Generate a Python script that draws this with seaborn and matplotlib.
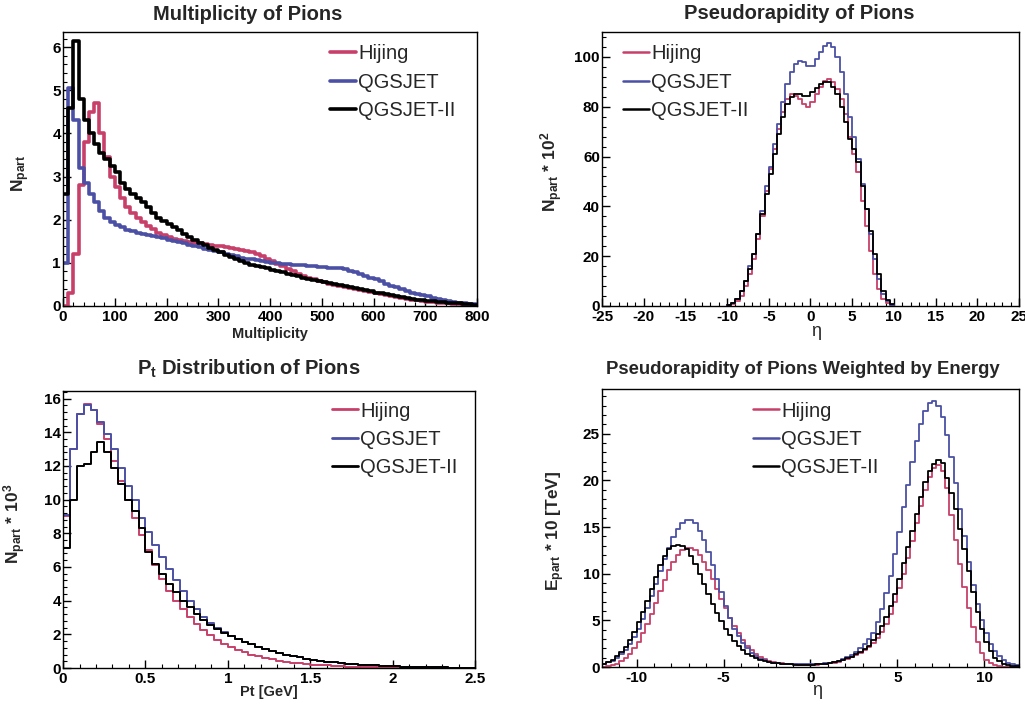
import numpy as np
import matplotlib
matplotlib.use("Agg")
import matplotlib.pyplot as plt
from matplotlib.lines import Line2D
from matplotlib.ticker import MultipleLocator, FuncFormatter
import seaborn as sns

MODELS = ["Hijing", "QGSJET", "QGSJET-II"]
COLORS = {"Hijing": "#c8406a", "QGSJET": "#4b50a5", "QGSJET-II": "#000000"}

# --- Multiplicity of pions (bins of 10 from 0 to 800) ---
mult_edges = np.arange(0, 810, 10)
mult_hijing = [0.0, 0.3, 1.2, 2.8, 3.8, 4.5, 4.7, 4.0, 3.45, 3.0,
               2.75, 2.5, 2.3, 2.15, 2.05, 1.95, 1.85, 1.78, 1.7, 1.64,
               1.6, 1.56, 1.53, 1.5, 1.48, 1.46, 1.45, 1.44, 1.42, 1.4,
               1.38, 1.36, 1.34, 1.32, 1.3, 1.27, 1.24, 1.2, 1.15, 1.1,
               1.04, 0.98, 0.92, 0.86, 0.8, 0.75, 0.7, 0.66, 0.62, 0.58,
               0.55, 0.52, 0.49, 0.46, 0.44, 0.42, 0.39, 0.37, 0.34, 0.32,
               0.29, 0.27, 0.25, 0.23, 0.21, 0.19, 0.17, 0.15, 0.13, 0.12,
               0.1, 0.09, 0.08, 0.07, 0.06, 0.05, 0.04, 0.03, 0.02, 0.015]
mult_qgsjet = [1.0, 5.05, 4.3, 3.2, 2.85, 2.6, 2.4, 2.2, 2.05, 1.95,
               1.88, 1.82, 1.77, 1.73, 1.7, 1.67, 1.64, 1.62, 1.6, 1.57,
               1.54, 1.51, 1.48, 1.45, 1.42, 1.39, 1.36, 1.33, 1.3, 1.27,
               1.24, 1.21, 1.18, 1.15, 1.12, 1.1, 1.08, 1.06, 1.04, 1.02,
               1.0, 0.99, 0.98, 0.97, 0.96, 0.95, 0.94, 0.93, 0.92, 0.91,
               0.9, 0.89, 0.88, 0.87, 0.85, 0.82, 0.78, 0.74, 0.7, 0.66,
               0.62, 0.57, 0.52, 0.47, 0.43, 0.39, 0.35, 0.31, 0.28, 0.25,
               0.22, 0.19, 0.16, 0.14, 0.12, 0.1, 0.08, 0.06, 0.05, 0.04]
mult_qgsjet2 = [2.6, 4.6, 6.15, 4.8, 4.3, 4.0, 3.75, 3.55, 3.4, 3.25,
                3.1, 2.85, 2.72, 2.6, 2.5, 2.4, 2.3, 2.15, 2.05, 1.97,
                1.9, 1.82, 1.75, 1.68, 1.6, 1.53, 1.47, 1.41, 1.35, 1.3,
                1.25, 1.19, 1.14, 1.09, 1.05, 1.0, 0.96, 0.93, 0.9, 0.87,
                0.84, 0.81, 0.78, 0.75, 0.72, 0.69, 0.66, 0.63, 0.6, 0.58,
                0.55, 0.53, 0.5, 0.48, 0.46, 0.44, 0.41, 0.39, 0.36, 0.34,
                0.31, 0.29, 0.27, 0.25, 0.23, 0.21, 0.19, 0.17, 0.15, 0.14,
                0.12, 0.11, 0.1, 0.09, 0.08, 0.07, 0.06, 0.05, 0.04, 0.03]

# --- Pseudorapidity of pions (bins of 0.5 from -10 to 10), N * 10^2 ---
eta_edges = np.arange(-10, 10.5, 0.5)
eta_hijing = [0.2, 0.8, 2, 4, 8, 13, 19, 27, 36, 46,
              55, 63, 71, 78, 83, 85, 84.5, 83, 81, 80,
              82, 85, 88, 90.5, 91, 90, 87, 83, 77, 68,
              61, 54, 42, 32, 22, 13, 7, 3, 1, 0.3]
eta_qgsjet = [0.3, 1, 3, 6, 10, 16, 21, 29, 38, 48,
              56, 65, 73, 82, 89, 94, 97, 98.5, 98, 96.5,
              96.5, 99, 102, 104.5, 105.5, 104, 100, 94, 85, 76,
              68, 59, 49, 39, 29, 19, 11, 5, 2, 0.5]
eta_qgsjet2 = [0.3, 1, 3, 6, 10, 15, 21, 29, 37, 45,
               53, 61, 69, 76, 81, 84, 85, 85, 84.5, 84.5,
               86, 87.5, 89, 90, 90, 88, 85, 80, 74, 67,
               63, 58, 48, 39, 30, 21, 13, 6, 2.5, 0.7]

# --- Pt distribution (60 bins from 0 to 2.5 GeV), N * 10^3 ---
pt_edges = np.linspace(0, 2.5, 61)
pt_hijing = [9.0, 13.0, 15.1, 15.7, 15.3, 14.5, 13.6, 12.3, 11.1, 10.0,
             8.9, 7.9, 7.0, 6.1, 5.3, 4.6, 4.0, 3.5, 3.0, 2.6,
             2.25, 1.95, 1.68, 1.45, 1.25, 1.08, 0.93, 0.8, 0.69, 0.59,
             0.51, 0.44, 0.38, 0.32, 0.28, 0.24, 0.2, 0.17, 0.15, 0.13,
             0.11, 0.09, 0.08, 0.07, 0.06, 0.05, 0.04, 0.035, 0.03, 0.025,
             0.02, 0.017, 0.014, 0.012, 0.01, 0.008, 0.007, 0.006, 0.005, 0.004]
pt_qgsjet = [9.1, 13.0, 15.1, 15.6, 15.3, 14.6, 13.9, 13.0, 11.9, 10.8,
             10.0, 8.9, 8.1, 7.3, 6.6, 5.9, 5.2, 4.6, 4.0, 3.5,
             3.05, 2.7, 2.4, 2.15, 1.93, 1.74, 1.57, 1.41, 1.26, 1.13,
             1.01, 0.9, 0.8, 0.71, 0.63, 0.56, 0.5, 0.44, 0.38, 0.34,
             0.3, 0.26, 0.23, 0.2, 0.17, 0.15, 0.13, 0.11, 0.1, 0.085,
             0.075, 0.065, 0.055, 0.047, 0.04, 0.034, 0.029, 0.025, 0.021, 0.018]
pt_qgsjet2 = [7.1, 10.0, 12.0, 12.1, 12.8, 13.45, 12.8, 11.9, 10.9, 10.0,
              9.3, 8.3, 6.9, 6.2, 5.6, 5.0, 4.5, 4.0, 3.6, 3.2,
              2.85, 2.55, 2.3, 2.1, 1.9, 1.72, 1.56, 1.4, 1.26, 1.13,
              1.01, 0.9, 0.8, 0.71, 0.63, 0.56, 0.5, 0.44, 0.38, 0.34,
              0.3, 0.26, 0.23, 0.2, 0.17, 0.15, 0.13, 0.11, 0.1, 0.085,
              0.075, 0.065, 0.055, 0.047, 0.04, 0.034, 0.029, 0.025, 0.021, 0.018]

# --- Pseudorapidity weighted by energy (bins of 0.25 from -12 to 12), E * 10 [TeV] ---
eeta_edges = np.arange(-12, 12.25, 0.25)
eeta_hijing = [0.05, 0.1, 0.2, 0.35, 0.6, 0.95, 1.4, 2.0, 2.7, 3.6,
               4.6, 5.7, 6.9, 8.1, 9.3, 10.4, 11.3, 12.0, 12.5, 12.8,
               12.8, 12.5, 12.0, 11.3, 10.4, 9.4, 8.4, 7.3, 6.3, 5.3,
               4.4, 3.6, 2.9, 2.3, 1.8, 1.4, 1.1, 0.85, 0.68, 0.55,
               0.46, 0.39, 0.34, 0.3, 0.28, 0.26, 0.25, 0.25,
               0.25, 0.27, 0.3, 0.34, 0.4, 0.48, 0.58, 0.7, 0.85, 1.03,
               1.25, 1.5, 1.8, 2.15, 2.6, 3.1, 3.8, 4.6, 5.7, 7.0,
               8.5, 10.0, 11.7, 13.5, 15.4, 17.3, 19.0, 20.4, 21.3, 21.7,
               21.0, 19.2, 16.3, 13.6, 11.0, 8.6, 6.3, 4.3, 2.7, 1.5,
               0.8, 0.4, 0.2, 0.1, 0.05, 0.02, 0.0, 0.0]
eeta_qgsjet = [0.33, 0.49, 0.69, 0.98, 1.37, 1.85, 2.45, 3.2, 4.1, 5.1,
               6.3, 7.6, 8.9, 10.3, 11.6, 12.8, 13.9, 14.8, 15.45, 15.75,
               15.75, 15.4, 14.6, 13.6, 12.3, 10.9, 9.4, 8.0, 6.5, 5.3,
               4.1, 3.3, 2.6, 2.0, 1.5, 1.15, 0.9, 0.72, 0.58, 0.48,
               0.41, 0.36, 0.33, 0.31, 0.3, 0.29, 0.28, 0.28,
               0.28, 0.3, 0.33, 0.38, 0.45, 0.55, 0.68, 0.85, 1.05, 1.3,
               1.6, 2.0, 2.5, 3.0, 3.7, 4.8, 6.2, 7.9, 9.8, 12.1,
               14.5, 17.1, 19.5, 22.0, 24.2, 26.0, 27.4, 28.25, 28.5, 28.0,
               26.8, 24.9, 22.5, 19.7, 16.9, 14.0, 11.3, 8.8, 6.8, 5.05,
               3.6, 2.5, 1.7, 1.13, 0.73, 0.46, 0.28, 0.17]
eeta_qgsjet2 = [0.35, 0.55, 0.8, 1.15, 1.6, 2.2, 2.9, 3.8, 4.8, 5.9,
                7.1, 8.4, 9.7, 10.9, 11.9, 12.6, 13.0, 13.1, 13.0, 12.6,
                11.9, 11.0, 10.0, 8.9, 7.8, 6.8, 5.8, 4.9, 4.1, 3.4,
                2.8, 2.25, 1.8, 1.45, 1.15, 0.92, 0.75, 0.62, 0.52, 0.44,
                0.38, 0.34, 0.31, 0.29, 0.27, 0.26, 0.25, 0.25,
                0.26, 0.28, 0.31, 0.35, 0.41, 0.5, 0.61, 0.75, 0.92, 1.12,
                1.36, 1.6, 1.9, 2.3, 2.85, 3.5, 4.4, 5.4, 6.5, 7.8,
                9.4, 11.2, 12.9, 14.6, 16.4, 18.2, 19.8, 21.0, 21.8, 22.2,
                21.9, 20.3, 18.6, 16.9, 14.8, 12.6, 10.3, 8.0, 5.9, 4.1,
                2.7, 1.7, 1.0, 0.6, 0.35, 0.2, 0.12, 0.07]


def draw_hist(ax, edges, values, color, lw):
    """Draws one weighted histogram as a step outline."""
    centers = (edges[:-1] + edges[1:]) / 2
    sns.histplot(x=centers, weights=np.asarray(values, dtype=float),
                 bins=list(edges), element="step", fill=False,
                 color=color, linewidth=lw, ax=ax)


def style_axes(ax, xlim, ylim, xmaj, xmin, ymaj, ymin):
    """ROOT-like frame: ticks inside on bottom/left, bold tick labels."""
    ax.set_xlim(*xlim)
    ax.set_ylim(*ylim)
    ax.xaxis.set_major_locator(MultipleLocator(xmaj))
    ax.xaxis.set_minor_locator(MultipleLocator(xmin))
    ax.yaxis.set_major_locator(MultipleLocator(ymaj))
    ax.yaxis.set_minor_locator(MultipleLocator(ymin))
    ax.xaxis.set_major_formatter(FuncFormatter(lambda v, p: f"{v:g}"))
    ax.yaxis.set_major_formatter(FuncFormatter(lambda v, p: f"{v:g}"))
    ax.tick_params(which="both", direction="in", top=False, right=False,
                   labelsize=11, colors="black")
    ax.tick_params(axis="x", which="major", length=6, width=1, pad=3)
    ax.tick_params(axis="y", which="major", length=6, width=1, pad=1.5)
    ax.tick_params(which="minor", length=3, width=0.8)
    for lab in ax.get_xticklabels() + ax.get_yticklabels():
        lab.set_fontweight("bold")
    for sp in ax.spines.values():
        sp.set_visible(True)
        sp.set_linewidth(1.0)
        sp.set_color("black")
    ax.grid(False)
    ax.set_xlabel("")
    ax.set_ylabel("")


def add_legend(ax, x, y, lw):
    handles = [Line2D([0], [0], color=COLORS[m], lw=lw) for m in MODELS]
    ax.legend(handles, MODELS, loc="upper left", bbox_to_anchor=(x, y),
              frameon=False, fontsize=14.5, handlelength=1.3,
              handletextpad=0.1, labelspacing=0.47, borderpad=0,
              borderaxespad=0)


def main():
    sns.set_theme(style="ticks")
    plt.rcParams["font.family"] = ["Liberation Sans", "DejaVu Sans"]
    plt.rcParams["mathtext.fontset"] = "custom"
    plt.rcParams["mathtext.rm"] = "Liberation Sans"
    plt.rcParams["mathtext.bf"] = "Liberation Sans:bold"
    plt.rcParams["mathtext.it"] = "Liberation Sans:italic"
    plt.rcParams["axes.unicode_minus"] = False

    fig = plt.figure(figsize=(10.25, 7.06), dpi=100)
    ax_mult = fig.add_axes([0.0615, 0.5666, 0.404, 0.388])
    ax_eta = fig.add_axes([0.5873, 0.5666, 0.4068, 0.388])
    ax_pt = fig.add_axes([0.0615, 0.0538, 0.402, 0.3924])
    ax_eeta = fig.add_axes([0.5873, 0.0552, 0.4068, 0.3938])

    panels = [
        (ax_mult, mult_edges, [mult_hijing, mult_qgsjet, mult_qgsjet2], 2.6),
        (ax_eta, eta_edges, [eta_hijing, eta_qgsjet, eta_qgsjet2], 1.3),
        (ax_pt, pt_edges, [pt_hijing, pt_qgsjet, pt_qgsjet2], 1.4),
        (ax_eeta, eeta_edges, [eeta_hijing, eeta_qgsjet, eeta_qgsjet2], 1.3),
    ]
    for ax, edges, series, lw in panels:
        for model, values in zip(MODELS, series):
            draw_hist(ax, edges, values, COLORS[model], lw)

    style_axes(ax_mult, (0, 800), (0, 6.35), 100, 20, 1, 0.2)
    style_axes(ax_eta, (-25, 25), (0, 110), 5, 1, 20, 4)
    style_axes(ax_pt, (0, 2.5), (0, 16.45), 0.5, 0.1, 2, 0.4)
    style_axes(ax_eeta, (-12, 12), (0, 29.8), 5, 1, 5, 1)

    add_legend(ax_mult, 0.645, 0.955, 2.6)
    add_legend(ax_eta, 0.05, 0.955, 1.8)
    add_legend(ax_pt, 0.653, 0.962, 2.0)
    add_legend(ax_eeta, 0.362, 0.955, 1.8)

    # titles
    fig.text(0.242, 0.980, "Multiplicity of Pions", ha="center", va="center",
             fontsize=14.5, fontweight="bold")
    fig.text(0.780, 0.981, "Pseudorapidity of Pions", ha="center", va="center",
             fontsize=14.5, fontweight="bold")
    fig.text(0.243, 0.478, r"P$_{\mathbf{t}}$ Distribution of Pions", ha="center",
             va="center", fontsize=14.5, fontweight="bold")
    fig.text(0.783, 0.476, "Pseudorapidity of Pions Weighted by Energy",
             ha="center", va="center", fontsize=13.3, fontweight="bold")

    # axis labels
    ax_mult.set_xlabel("Multiplicity", fontsize=10.5, fontweight="bold")
    ax_mult.xaxis.set_label_coords(0.5, -0.075)
    ax_mult.set_ylabel(r"N$_{\mathbf{part}}$", fontsize=12.5, fontweight="bold")
    ax_mult.yaxis.set_label_coords(-0.075, 0.485)

    ax_eta.set_xlabel("η", fontsize=13)
    ax_eta.xaxis.set_label_coords(0.513, -0.062)
    ax_eta.set_ylabel(r"N$_{\mathbf{part}}$ * 10$^{\mathbf{2}}$", fontsize=12.5,
                      fontweight="bold")
    ax_eta.yaxis.set_label_coords(-0.089, 0.49)

    ax_pt.set_xlabel("Pt [GeV]", fontsize=10.5, fontweight="bold")
    ax_pt.xaxis.set_label_coords(0.5, -0.062)
    ax_pt.set_ylabel(r"N$_{\mathbf{part}}$ * 10$^{\mathbf{3}}$", fontsize=12.5,
                     fontweight="bold")
    ax_pt.yaxis.set_label_coords(-0.085, 0.52)

    ax_eeta.set_xlabel("η", fontsize=13)
    ax_eeta.xaxis.set_label_coords(0.516, -0.055)
    ax_eeta.set_ylabel(r"E$_{\mathbf{part}}$ * 10 [TeV]", fontsize=12.5,
                       fontweight="bold")
    ax_eeta.yaxis.set_label_coords(-0.084, 0.49)

    fig.savefig("out.png", dpi=100)


if __name__ == "__main__":
    main()
